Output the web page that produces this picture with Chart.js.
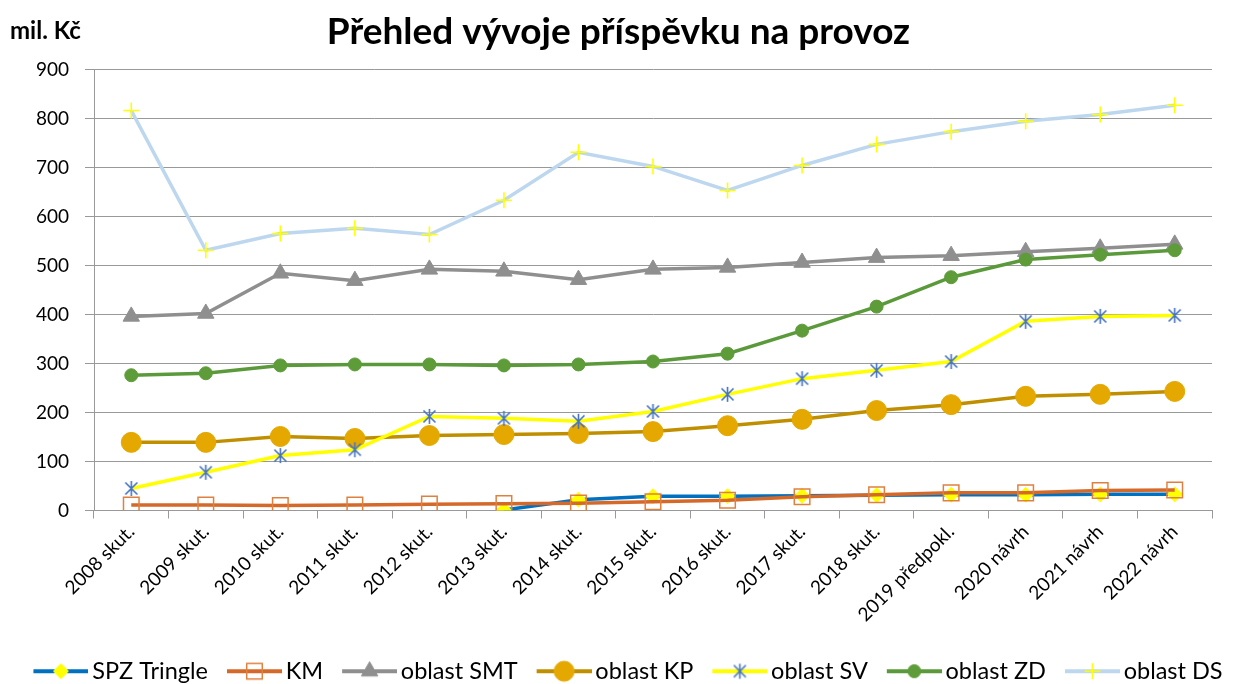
<!DOCTYPE html>
<html>
<head>
<meta charset="utf-8">
<script src="https://cdn.jsdelivr.net/npm/chart.js@4/dist/chart.umd.min.js"></script>
<style>
  html, body { margin: 0; padding: 0; background: #fff; }
  #wrap { width: 1237px; height: 684px; position: relative; }
</style>
</head>
<body>
<div id="wrap"><canvas id="chart"></canvas></div>
<script>
// roky / kategorie
const categories = ['2008 skut.', '2009 skut.', '2010 skut.', '2011 skut.', '2012 skut.',
    '2013 skut.', '2014 skut.', '2015 skut.', '2016 skut.', '2017 skut.', '2018 skut.',
    '2019 předpokl.', '2020 návrh', '2021 návrh', '2022 návrh'];

// hodnoty v mil. Kč
const spzTringle = [null, null, null, null, null, 1, 22, 29, 29, 30, 31, 32, 32, 33, 33];
const km = [11, 11, 10, 11, 13, 14, 15, 18, 21, 28, 32, 36, 36, 41, 42];
const oblastSMT = [396, 402, 484, 469, 492, 488, 471, 492, 496, 506, 516, 520, 528, 535, 543];
const oblastKP = [139, 139, 151, 147, 153, 155, 157, 161, 173, 186, 204, 216, 233, 237, 243];
const oblastSV = [45, 78, 112, 124, 192, 188, 182, 202, 237, 269, 286, 304, 386, 396, 398];
const oblastZD = [276, 280, 296, 298, 298, 296, 298, 304, 320, 367, 416, 476, 512, 522, 531];
const oblastDS = [816, 531, 565, 576, 563, 633, 731, 702, 653, 704, 747, 773, 794, 808, 827];

const seriesNames = ['SPZ Tringle', 'KM', 'oblast SMT', 'oblast KP', 'oblast SV', 'oblast ZD', 'oblast DS'];
const yTicks = [0, 100, 200, 300, 400, 500, 600, 700, 800, 900];

const FONT = 'Lato, "Open Sans", sans-serif';

// hvezdicka (X + svisla cara) jako v Excelu
function asteriskCanvas(size, color) {
    const c = document.createElement('canvas');
    c.width = size; c.height = size;
    const g = c.getContext('2d');
    g.strokeStyle = color;
    g.lineWidth = 1.6;
    const h = size / 2, r = size / 2 - 1;
    g.beginPath();
    g.moveTo(h - r * 0.8, h - r * 0.8); g.lineTo(h + r * 0.8, h + r * 0.8);
    g.moveTo(h + r * 0.8, h - r * 0.8); g.lineTo(h - r * 0.8, h + r * 0.8);
    g.moveTo(h, 1); g.lineTo(h, size - 1);
    g.stroke();
    return c;
}

const svStar = asteriskCanvas(17, '#4472C4');

const styles = [
    {line: '#0070C0', point: 'rectRot', radius: 7.5, fill: '#FFFF00', border: '#FFFF00', bw: 1},
    {line: '#D4692A', point: 'rect', radius: 11, fill: 'rgba(0,0,0,0)', border: '#E0803F', bw: 1.5},
    {line: '#8F8F8F', point: 'triangle', radius: 9.5, fill: '#8F8F8F', border: '#8F8F8F', bw: 1},
    {line: '#BF8F00', point: 'circle', radius: 10, fill: '#E5A800', border: '#E5A800', bw: 1},
    {line: '#FFFF00', point: svStar, radius: 8, fill: '#4472C4', border: '#4472C4', bw: 1},
    {line: '#5B9A3B', point: 'circle', radius: 6.5, fill: '#5E9C3A', border: '#5E9C3A', bw: 1},
    {line: '#BDD7EE', point: 'cross', radius: 8, fill: '#FFFF00', border: '#FFFF00', bw: 1.6}
];

const values = [spzTringle, km, oblastSMT, oblastKP, oblastSV, oblastZD, oblastDS];

// ikonka do legendy: cara + znacka (vlevo pruhledny okraj kvuli mezere mezi polozkami)
function legendIcon(s) {
    const m = 27, w = 55;
    const c = document.createElement('canvas');
    c.width = m + w; c.height = 26;
    const g = c.getContext('2d');
    g.strokeStyle = s.line;
    g.lineWidth = 4;
    g.beginPath();
    g.moveTo(m, 13); g.lineTo(m + w, 13);
    g.stroke();
    const cx = m + w / 2;
    if (typeof s.point === 'string') {
        g.fillStyle = s.fill;
        g.strokeStyle = s.border;
        g.lineWidth = s.bw;
        Chart.helpers.drawPoint(g, {pointStyle: s.point, radius: s.radius, borderWidth: s.bw, rotation: 0}, cx, 13);
    } else {
        g.drawImage(s.point, cx - s.point.width / 2, 13 - s.point.height / 2);
    }
    return c;
}

const datasets = values.map((v, i) => ({
    label: seriesNames[i],
    data: v,
    borderColor: styles[i].line,
    borderWidth: 3.5,
    tension: 0,
    pointStyle: styles[i].point,
    pointRadius: styles[i].radius,
    pointHoverRadius: styles[i].radius,
    pointBackgroundColor: styles[i].fill,
    pointBorderColor: styles[i].border,
    pointBorderWidth: styles[i].bw,
    backgroundColor: styles[i].fill,
    spanGaps: false,
    order: values.length - i
}));

const unitLabel = {
    id: 'unitLabel',
    afterDraw(chart) {
        const ctx = chart.ctx;
        ctx.save();
        ctx.font = 'bold 24px ' + FONT;
        ctx.fillStyle = '#000';
        ctx.textBaseline = 'middle';
        ctx.textAlign = 'left';
        ctx.fillText('mil. Kč', 10, 31);
        ctx.restore();
    }
};

new Chart(document.getElementById('chart'), {
    type: 'line',
    data: {labels: categories, datasets: datasets},
    plugins: [unitLabel],
    options: {
        responsive: true,
        maintainAspectRatio: false,
        animation: false,
        layout: {padding: {left: 0, right: 0, top: 0, bottom: -9}},
        plugins: {
            title: {
                display: true,
                text: 'Přehled vývoje příspěvku na provoz',
                color: '#000',
                font: {family: FONT, size: 37, weight: 'bold'},
                padding: {top: 10, bottom: 15}
            },
            legend: {
                position: 'bottom',
                labels: {
                    usePointStyle: true,
                    pointStyleWidth: 66,
                    padding: 0,
                    color: '#000',
                    font: {family: FONT, size: 23.5},
                    generateLabels: (chart) => chart.data.datasets.map((ds, i) => ({
                        text: ds.label,
                        pointStyle: legendIcon(styles[i]),
                        fillStyle: styles[i].fill,
                        strokeStyle: styles[i].line,
                        lineWidth: 0,
                        fontColor: '#000',
                        hidden: !chart.isDatasetVisible(i),
                        datasetIndex: i
                    }))
                }
            },
            tooltip: {enabled: false}
        },
        scales: {
            x: {
                offset: true,
                afterFit: (scale) => { scale.height = 149; },
                grid: {display: true, drawOnChartArea: false, offset: true, tickLength: 8, color: '#999'},
                border: {display: true, color: '#999'},
                ticks: {
                    color: '#000',
                    font: {family: FONT, size: 19},
                    maxRotation: 45,
                    minRotation: 45,
                    autoSkip: false,
                    padding: 2
                }
            },
            y: {
                min: 0,
                max: 900,
                afterFit: (scale) => { scale.width = 94; },
                afterBuildTicks: (scale) => { scale.ticks = yTicks.map(v => ({value: v})); },
                grid: {color: '#999', tickLength: 9},
                border: {display: true, color: '#999'},
                ticks: {
                    color: '#000',
                    font: {family: FONT, size: 19},
                    padding: 16
                }
            },
            // prazdny okraj vpravo od grafu
            yRight: {
                type: 'linear',
                position: 'right',
                afterFit: (scale) => { scale.width = 25; },
                grid: {display: false},
                border: {display: false},
                ticks: {display: false}
            }
        }
    }
});
</script>
</body>
</html>
